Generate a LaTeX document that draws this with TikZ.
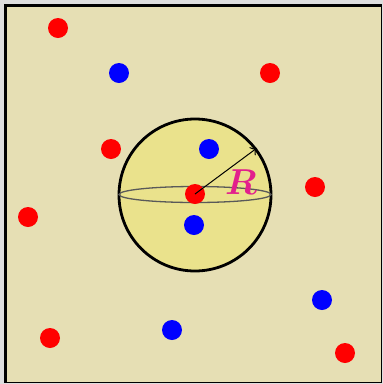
\documentclass[tikz,border=0pt]{standalone}
\usepackage{amsmath}
\usepackage{bm}
\usetikzlibrary{arrows.meta}
\definecolor{bgout}{HTML}{DEDEDE}
\definecolor{paper}{HTML}{E6DFB4}
\definecolor{ball}{HTML}{EAE28C}
\definecolor{rlab}{HTML}{E2208C}
\tikzset{
  reddot/.style={circle,fill=red,inner sep=0pt,minimum size=20pt},
  bluedot/.style={circle,fill=blue,inner sep=0pt,minimum size=20pt}
}
\begin{document}
\begin{tikzpicture}[x=1pt,y=-1pt]
\fill[bgout] (0,0) rectangle (383,384);
\useasboundingbox (0,0) rectangle (383,384);
\fill[paper] (5.5,5) rectangle (381.5,382.5);
\draw[line width=1.2pt] (381.5,5) -- (381.5,382.5) -- (5.5,382.5);
\draw[line width=3pt] (5.5,382.5) -- (5.5,5) -- (381.5,5);
% sphere
\filldraw[fill=ball,line width=2.8pt] (195,195) circle[radius=76];
\draw[black!65,line width=1.3pt] (195,194.5) ellipse[x radius=76,y radius=8];
% dots
\node[reddot] (r1) at (58,28) {};
\node[reddot] (r2) at (270,73) {};
\node[reddot] (r3) at (111,149) {};
\node[reddot] (r4) at (315,187) {};
\node[reddot] (r5) at (28,217) {};
\node[reddot] (c) at (195,194) {};
\node[reddot] (r6) at (50,338) {};
\node[reddot] (r7) at (345,353) {};
\node[bluedot] (b1) at (119,73) {};
\node[bluedot] (b2) at (209,149) {};
\node[bluedot] (b3) at (194,225) {};
\node[bluedot] (b4) at (322,300) {};
\node[bluedot] (b5) at (172,330) {};
% radius
\coordinate (tip) at (257,148);
\draw[-{To[length=6pt,width=10pt]},line width=1pt] (c.center) -- (tip);
\node[text=rlab,inner sep=0pt,scale=1.45] (R) at (241,182) {\Huge$\bm{R}$};
\end{tikzpicture}
\end{document}
